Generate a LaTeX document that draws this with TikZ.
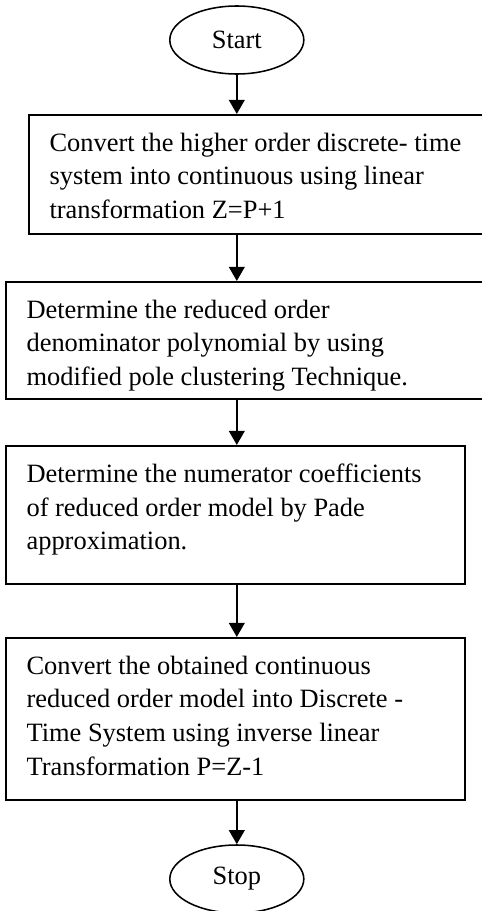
\documentclass[tikz,border=0pt]{standalone}
\usepackage{fontspec}
\setmainfont{Liberation Serif}
\usetikzlibrary{arrows.meta,shapes.geometric}

\begin{document}
\begin{tikzpicture}[x=1cm,y=1cm,
  font=\fontsize{18.8pt}{24pt}\selectfont,
  terminal/.style={draw, ellipse, line width=1.1pt, inner sep=0pt, minimum width=3.35cm, minimum height=1.7cm},
  stepbox/.style={draw, rectangle, line width=1.1pt, anchor=north west, inner xsep=0.52cm, inner ysep=0.45cm},
  flow/.style={-{Triangle[width=11pt,length=10pt]}, line width=1.7pt}]
\clip (0,0) rectangle (12.05,-22.775);
\node[terminal] (start) at (5.92,-1.0) {Start};
\node[stepbox] (b1) at (0.7,-2.85) {\parbox[c][2.075cm][t]{10.46cm}{\raggedright Convert the higher order discrete- time\\ system into continuous using linear\\ transformation Z=P+1}};
\node[stepbox] (b2) at (0.125,-7.025) {\parbox[c][2.025cm][t]{11.035cm}{\raggedright Determine the reduced order\\ denominator polynomial by using\\ modified pole clustering Technique.}};
\node[stepbox] (b3) at (0.125,-11.125) {\parbox[c][2.55cm][t]{10.435cm}{\raggedright Determine the numerator coefficients\\ of reduced order model by Pade\\ approximation.}};
\node[stepbox] (b4) at (0.125,-15.925) {\parbox[c][3.15cm][t]{10.435cm}{\raggedright Convert the obtained continuous\\ reduced order model into Discrete -\\ Time System using inverse linear\\ Transformation P=Z-1}};
\node[terminal] (stop) at (5.92,-21.975) {Stop};
\draw[flow] (start) -- (start |- b1.north);
\draw[flow] (b1.south -| start) -- (b2.north -| start);
\draw[flow] (b2.south -| start) -- (b3.north -| start);
\draw[flow] (b3.south -| start) -- (b4.north -| start);
\draw[flow] (b4.south -| stop) -- (stop);
\end{tikzpicture}
\end{document}
